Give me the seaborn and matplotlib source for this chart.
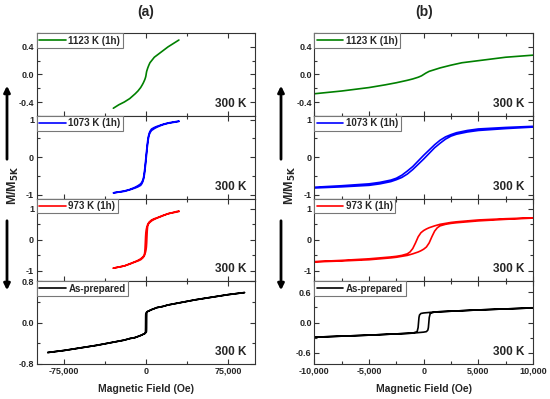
import numpy as np
import pandas as pd
import matplotlib
matplotlib.use("Agg")
import matplotlib.pyplot as plt
from matplotlib.ticker import MultipleLocator, FuncFormatter, FormatStrFormatter
import seaborn as sns

# ---- data (field in Oe, M/M5K) ----
# 1123 K (1h): single curve, no visible loop
h_1123 = [-30000, -25000, -20000, -15000, -10000, -7500, -5000, -3500, -2500, -1500,
          -1000, -500, -200, 0, 200, 500, 1000, 1500, 2500, 3500, 5000, 7500,
          10000, 15000, 20000, 25000, 30000]
m_1123 = [-0.49, -0.44, -0.40, -0.35, -0.28, -0.24, -0.19, -0.15, -0.12, -0.085,
          -0.065, -0.04, -0.02, 0.0, 0.02, 0.045, 0.07, 0.095, 0.135, 0.17, 0.20, 0.25,
          0.28, 0.34, 0.40, 0.45, 0.50]

# 1073 K (1h): narrow loop, descending branch then ascending branch
h_1073 = [30000, 20000, 15000, 10000, 7500, 5000, 4000, 3000, 2500, 2000, 1500, 1000,
          500, 0, -500, -1000, -1500, -2000, -2500, -3000, -4000, -5000, -7500,
          -10000, -15000, -20000, -30000,
          -20000, -15000, -10000, -7500, -5000, -4000, -3000, -2500, -2000, -1500,
          -1000, -500, 0, 500, 1000, 1500, 2000, 2500, 3000, 4000, 5000, 7500,
          10000, 15000, 20000, 30000]
m_1073 = [0.96, 0.91, 0.87, 0.82, 0.79, 0.75, 0.71, 0.65, 0.60, 0.54, 0.45, 0.33,
          0.19, 0.05, -0.10, -0.25, -0.37, -0.48, -0.56, -0.61, -0.67, -0.71, -0.76,
          -0.80, -0.86, -0.90, -0.95,
          -0.91, -0.87, -0.82, -0.79, -0.75, -0.71, -0.65, -0.60, -0.54, -0.45,
          -0.33, -0.19, -0.05, 0.10, 0.25, 0.37, 0.48, 0.56, 0.61, 0.67, 0.71, 0.76,
          0.80, 0.86, 0.90, 0.95]

# 973 K (1h): wider loop
h_973 = [30000, 20000, 15000, 10000, 7500, 5000, 4000, 3000, 2500, 2000, 1500, 1000,
         750, 500, 250, 0, -250, -500, -750, -1000, -1250, -1500, -2000, -2500, -3000,
         -4000, -5000, -7500, -10000, -15000, -20000, -30000,
         -20000, -15000, -10000, -7500, -5000, -4000, -3000, -2500, -2000, -1500,
         -1000, -750, -500, -250, 0, 250, 500, 750, 1000, 1250, 1500, 2000, 2500, 3000,
         4000, 5000, 7500, 10000, 15000, 20000, 30000]
m_973 = [0.93, 0.84, 0.78, 0.71, 0.68, 0.64, 0.61, 0.58, 0.56, 0.53, 0.50, 0.45,
         0.42, 0.39, 0.35, 0.30, 0.23, 0.10, -0.10, -0.28, -0.39, -0.45, -0.50, -0.53, -0.55,
         -0.58, -0.61, -0.66, -0.70, -0.77, -0.84, -0.91,
         -0.84, -0.78, -0.71, -0.68, -0.64, -0.61, -0.58, -0.56, -0.53, -0.50,
         -0.45, -0.42, -0.39, -0.35, -0.30, -0.23, -0.10, 0.10, 0.28, 0.39, 0.45,
         0.50, 0.53, 0.55, 0.58, 0.61, 0.66, 0.70, 0.77, 0.84, 0.91]

# As-prepared: square loop plus linear high-field part
h_asp = [90000, 75000, 60000, 45000, 30000, 20000, 15000, 10000, 7500, 5000, 3000,
         2000, 1000, 500, 0, -250, -380, -430, -470, -510, -600, -1000, -2000,
         -3000, -5000, -7500, -10000, -15000, -20000, -30000, -45000, -60000,
         -75000, -90000,
         -75000, -60000, -45000, -30000, -20000, -15000, -10000, -7500, -5000,
         -3000, -2000, -1000, -500, 0, 250, 380, 430, 470, 510, 600, 1000, 2000,
         3000, 5000, 7500, 10000, 15000, 20000, 30000, 45000, 60000, 75000, 90000]
m_asp = [0.58, 0.54, 0.49, 0.44, 0.38, 0.34, 0.31, 0.29, 0.27, 0.25, 0.23,
         0.22, 0.21, 0.20, 0.19, 0.18, 0.15, 0.10, 0.0, -0.10, -0.18, -0.21, -0.22,
         -0.23, -0.25, -0.27, -0.29, -0.31, -0.34, -0.38, -0.44, -0.49,
         -0.54, -0.58,
         -0.54, -0.49, -0.44, -0.38, -0.34, -0.31, -0.29, -0.27, -0.25,
         -0.23, -0.22, -0.21, -0.20, -0.19, -0.18, -0.15, -0.10, 0.0, 0.10, 0.18,
         0.21, 0.22, 0.23, 0.25, 0.27, 0.29, 0.31, 0.34, 0.38, 0.44, 0.49, 0.54, 0.58]

labels = ["1123 K (1h)", "1073 K (1h)", "973 K (1h)", "As-prepared"]
colors = ["#008000", "#0000ff", "#ff0000", "#000000"]
fields = [h_1123, h_1073, h_973, h_asp]
moments = [m_1123, m_1073, m_973, m_asp]

# y limits and tick steps per row (left, right)
ylims = [(0.6, 0.6), (1.1, 1.1), (1.33, 1.33), (0.8, 0.82)]
ymajor = [(0.4, 0.4), (1, 1), (1, 1), (0.8, 0.6)]
yfmt = ["%.1f", "%d", "%d", "%.1f"]

sns.set_theme(style="ticks")
plt.rcParams["font.family"] = ["Liberation Sans", "DejaVu Sans"]
plt.rcParams["font.weight"] = "bold"
plt.rcParams["mathtext.default"] = "bf"
plt.rcParams["axes.unicode_minus"] = False
plt.rcParams["xtick.direction"] = "in"
plt.rcParams["ytick.direction"] = "in"

fig, axes = plt.subplots(4, 2, figsize=(5.5, 3.99), dpi=100, sharex="col")
plt.subplots_adjust(left=0.067, right=0.969, top=0.917, bottom=0.088,
                    hspace=0, wspace=0.27)

comma = FuncFormatter(lambda v, p: f"{v:,.0f}")

for row in range(4):
    df = pd.DataFrame({"H": fields[row], "M": moments[row]})
    for col in range(2):
        ax = axes[row, col]
        sns.lineplot(data=df, x="H", y="M", sort=False, estimator=None,
                     color=colors[row], lw=1.2, ax=ax, label=labels[row])
        lim = ylims[row][col]
        ax.set_ylim(-lim, lim)
        ax.yaxis.set_major_locator(MultipleLocator(ymajor[row][col]))
        ax.yaxis.set_minor_locator(MultipleLocator(ymajor[row][col] / 2))
        ax.yaxis.set_major_formatter(FormatStrFormatter(yfmt[row]))
        if col == 0:
            ax.set_xlim(-100000, 100000)
            ax.xaxis.set_major_locator(MultipleLocator(75000))
            ax.xaxis.set_minor_locator(MultipleLocator(37500))
        else:
            ax.set_xlim(-10000, 10000)
            ax.xaxis.set_major_locator(MultipleLocator(5000))
            ax.xaxis.set_minor_locator(MultipleLocator(2500))
        ax.xaxis.set_major_formatter(comma)
        ax.tick_params(which="both", top=True, right=True, labelsize=6.5,
                       width=0.8, color="#333333", pad=2)
        ax.tick_params(which="major", length=3.5)
        ax.tick_params(which="minor", length=2)
        for sp in ax.spines.values():
            sp.set_linewidth(0.8)
            sp.set_color("#333333")
        ax.set_xlabel("")
        ax.set_ylabel("")
        leg = ax.legend(loc="upper left", borderaxespad=0, fancybox=False,
                        edgecolor="#777777", framealpha=1, handlelength=2.7,
                        handletextpad=0.3, borderpad=0.25,
                        prop={"weight": "bold", "size": 7})
        leg.get_frame().set_linewidth(0.8)
        ax.text(0.96, 0.07, "300 K", transform=ax.transAxes, ha="right",
                va="bottom", fontsize=8.5, fontweight="bold")

for col, title in enumerate(["(a)", "(b)"]):
    axes[0, col].set_title(title, fontsize=10, fontweight="bold", pad=12)
    axes[3, col].set_xlabel("Magnetic Field (Oe)", fontsize=7.5,
                            fontweight="bold", labelpad=6)

# y label with arrows, one set per column
for xlab, xarr in [(13 / 550, 7 / 550), (290 / 550, 281 / 550)]:
    fig.text(xlab, 1 - 185 / 399, r"M/M$_{5K}$", rotation=90,
             ha="center", va="center", fontsize=9, fontweight="bold")
    fig.add_artist(matplotlib.patches.FancyArrowPatch(
        (xarr, 1 - 162 / 399), (xarr, 1 - 83 / 399), transform=fig.transFigure,
        arrowstyle="-|>", mutation_scale=9, lw=2, color="black"))
    fig.add_artist(matplotlib.patches.FancyArrowPatch(
        (xarr, 1 - 218 / 399), (xarr, 1 - 293 / 399), transform=fig.transFigure,
        arrowstyle="-|>", mutation_scale=9, lw=2, color="black"))

plt.savefig("out.png", dpi=100)
